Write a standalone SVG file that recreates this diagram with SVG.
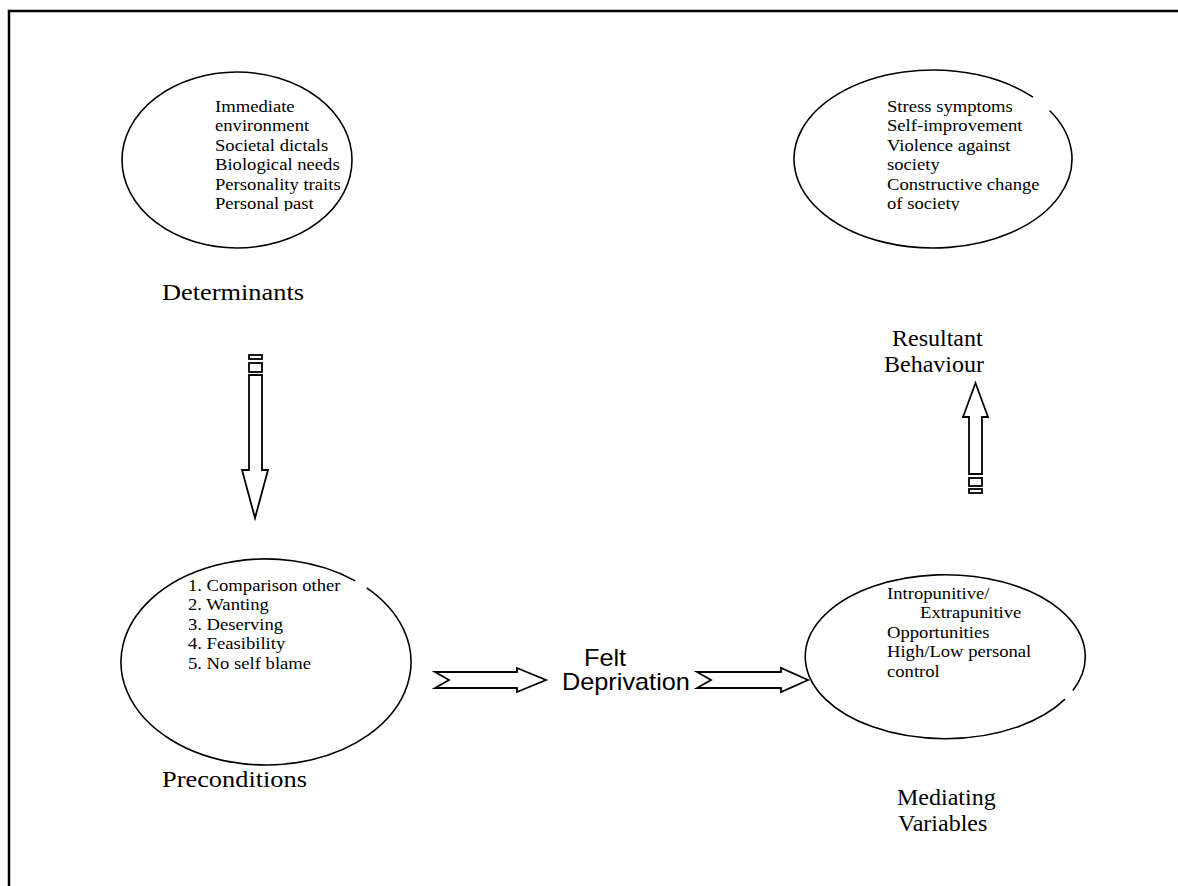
<svg xmlns="http://www.w3.org/2000/svg" width="1178" height="886" viewBox="0 0 1178 886">
<style>
.ell{fill:none;stroke:#000;stroke-width:1.6}
.arr{fill:#fff;stroke:#000;stroke-width:1.8;stroke-linejoin:miter}
.body{font-family:"Liberation Serif","Times New Roman",serif;font-size:17.5px;fill:#000}
.lbl{font-family:"Liberation Serif","Times New Roman",serif;font-size:24px;fill:#000}
.sans{font-family:"Liberation Sans",Arial,sans-serif;font-size:23px;fill:#000}
</style>
<defs>
<clipPath id="c1"><rect x="150" y="80" width="200" height="131"/></clipPath>
<clipPath id="c2"><rect x="830" y="80" width="220" height="131"/></clipPath>
</defs>
<rect width="1178" height="886" fill="#fff"/>
<path d="M9,886 V11 H1178" fill="none" stroke="#000" stroke-width="2.5"/>

<g id="determinants">
<ellipse class="ell" cx="237" cy="160" rx="115" ry="88"/>
<g clip-path="url(#c1)">
<text class="body" transform="translate(215,0) scale(1.065,1)">
<tspan x="0" y="112">Immediate</tspan>
<tspan x="0" y="131.5">environment</tspan>
<tspan x="0" y="151">Societal dictals</tspan>
<tspan x="0" y="170.5">Biological needs</tspan>
<tspan x="0" y="190">Personality traits</tspan>
<tspan x="0" y="209.5">Personal past</tspan>
</text>
</g>
<text class="lbl" x="162" y="300" textLength="142" lengthAdjust="spacingAndGlyphs">Determinants</text>
</g>

<g id="resultant">
<path class="ell" d="M1049.58,110.53 A139,89 0 1 1 1032.99,97.17"/>
<g clip-path="url(#c2)">
<text class="body" transform="translate(887,0) scale(1.065,1)">
<tspan x="0" y="112">Stress symptoms</tspan>
<tspan x="0" y="131.5">Self-improvement</tspan>
<tspan x="0" y="151">Violence against</tspan>
<tspan x="0" y="170.5">society</tspan>
<tspan x="0" y="190">Constructive change</tspan>
<tspan x="0" y="209.5">of society</tspan>
</text>
</g>
<text class="lbl" x="892" y="346">Resultant</text>
<text class="lbl" x="884" y="372">Behaviour</text>
</g>

<g id="preconditions">
<path class="ell" d="M366.73,587.91 A145,103 0 1 1 355.27,580.83"/>
<text class="body" transform="translate(188,0) scale(1.065,1)">
<tspan x="0" y="591">1. Comparison other</tspan>
<tspan x="0" y="610.5">2. Wanting</tspan>
<tspan x="0" y="630">3. Deserving</tspan>
<tspan x="0" y="649.5">4. Feasibility</tspan>
<tspan x="0" y="669">5. No self blame</tspan>
</text>
<text class="lbl" x="162" y="787" textLength="145" lengthAdjust="spacingAndGlyphs">Preconditions</text>
</g>

<g id="mediating">
<path class="ell" d="M1065,699.2 A140,82 0 1 1 1072.9,690.4"/>
<text class="body" transform="translate(887,0) scale(1.065,1)">
<tspan x="0" y="599">Intropunitive/</tspan>
<tspan x="31" y="618.5">Extrapunitive</tspan>
<tspan x="0" y="638">Opportunities</tspan>
<tspan x="0" y="657.5">High/Low personal</tspan>
<tspan x="0" y="677">control</tspan>
</text>
<text class="lbl" x="897" y="805">Mediating</text>
<text class="lbl" x="898" y="831">Variables</text>
</g>

<g id="felt-deprivation">
<text class="sans" transform="translate(584,666) scale(1.1,1)">Felt</text>
<text class="sans" transform="translate(562,690) scale(1.1,1)">Deprivation</text>
</g>

<g id="connectors">
<rect class="arr" x="249" y="355" width="13" height="4"/>
<rect class="arr" x="249" y="363" width="13" height="9"/>
<path class="arr" d="M249,375 H262 V470 H268 L255,518 L242,470 H249 Z"/>
<path class="arr" d="M975.5,383 L988,417 H982 V474 H969 V417 H963 Z"/>
<rect class="arr" x="969" y="478" width="13" height="8"/>
<rect class="arr" x="969" y="489" width="13" height="4"/>
<path class="arr" d="M435,672 H517 V668 L546,680 L517,692 V688 H435 L449,680 Z"/>
<path class="arr" d="M697,672 H781 V668 L808,680 L781,692 V688 H697 L711,680 Z"/>
</g>
</svg>
